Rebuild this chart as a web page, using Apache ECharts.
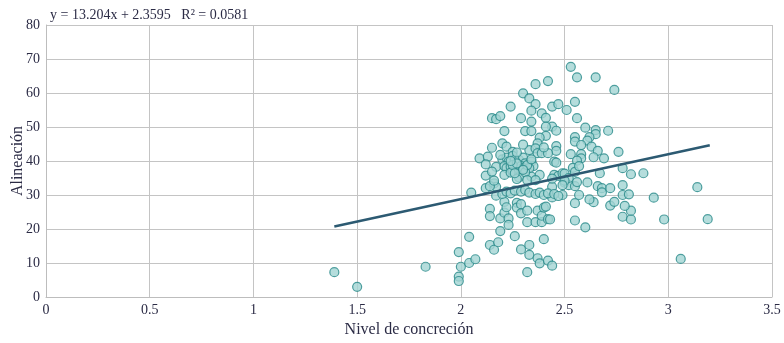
<!DOCTYPE html>
<html>
<head>
<meta charset="utf-8">
<script src="https://cdn.jsdelivr.net/npm/echarts@6/dist/echarts.min.js"></script>
<style>
  html, body { margin: 0; padding: 0; background: #fff; }
  #chart { width: 784px; height: 343px; }
</style>
</head>
<body>
<div id="chart"></div>
<script>
// Nivel de concreción (x) / Alineación (y)
const nivel = [
  1.39, 1.50, 1.83, 1.99, 2.00, 1.99, 1.99, 2.04, 2.07, 2.04,
  2.05, 2.14, 2.16, 2.14, 2.14, 2.18, 2.19, 2.19, 2.21, 2.23,
  2.23, 2.26, 2.29, 2.33, 2.33, 2.37, 2.38, 2.42, 2.44, 2.32,
  2.40, 2.21, 2.22, 2.27, 2.27, 2.29, 2.29, 2.32, 2.32, 2.36,
  2.37, 2.39, 2.39, 2.40, 2.42, 2.41, 2.43, 2.55, 2.60, 2.93,
  2.98, 3.06, 3.14, 3.19, 2.78, 2.82, 2.82, 2.79, 2.72, 2.74,
  2.64, 2.62, 2.55, 2.44, 2.49, 2.57, 2.78, 2.81, 2.44, 2.50,
  2.52, 2.55, 2.56, 2.61, 2.66, 2.68, 2.68, 2.72, 2.78, 2.67,
  2.82, 2.88, 2.78, 2.45, 2.47, 2.49, 2.50, 2.44, 2.52, 2.53,
  2.56, 2.65, 2.74, 2.44, 2.47, 2.55, 2.51, 2.56, 2.44, 2.46,
  2.60, 2.65, 2.65, 2.71, 2.55, 2.55, 2.62, 2.61, 2.58, 2.63,
  2.66, 2.46, 2.46, 2.76, 2.53, 2.58, 2.58, 2.64, 2.69, 2.56,
  2.45, 2.46, 2.54, 2.55, 2.57, 2.36, 2.42, 2.30, 2.33, 2.36,
  2.24, 2.34, 2.39, 2.41, 2.29, 2.34, 2.15, 2.17, 2.19, 2.21,
  2.31, 2.34, 2.41, 2.41, 2.38, 2.37, 2.20, 2.22, 2.25, 2.15,
  2.33, 2.36, 2.37, 2.39, 2.42, 2.09, 2.13, 2.20, 2.22, 2.23,
  2.25, 2.26, 2.28, 2.30, 2.31, 2.34, 2.35, 2.33, 2.17, 2.21,
  2.22, 2.24, 2.25, 2.29, 2.30, 2.28, 2.34, 2.38, 2.40, 2.12,
  2.15, 2.21, 2.24, 2.27, 2.31, 2.16, 2.17, 2.12, 2.14, 2.17,
  2.20, 2.22, 2.24, 2.26, 2.29, 2.31, 2.33, 2.36, 2.38, 2.40,
  2.42, 2.45, 2.47, 2.25, 2.27, 2.32, 2.30, 2.26, 2.32, 2.36,
  2.50, 2.49, 2.16, 2.19, 2.27, 2.30, 2.24, 2.34, 2.12
];
const alineacion = [
  7.3, 3.0, 8.9, 13.2, 8.9, 6.0, 4.7, 10.0, 11.1, 17.7,
  30.7, 15.3, 13.9, 25.9, 23.8, 16.1, 19.4, 23.1, 24.8, 23.1,
  21.2, 17.9, 14.0, 15.3, 12.4, 11.4, 9.9, 10.7, 9.2, 7.3,
  17.0, 28.0, 26.4, 27.7, 26.3, 27.3, 24.6, 25.4, 22.0, 22.0,
  25.4, 22.0, 23.9, 26.3, 22.9, 26.6, 22.8, 22.5, 20.5, 29.2,
  22.8, 11.2, 32.3, 22.9, 23.6, 22.8, 25.4, 26.8, 26.9, 28.0,
  27.9, 28.7, 27.6, 29.3, 30.0, 30.0, 30.0, 30.2, 32.4, 33.6,
  32.9, 32.6, 33.8, 33.7, 32.6, 32.0, 30.8, 32.0, 32.9, 36.4,
  36.1, 36.4, 37.9, 35.9, 35.6, 36.4, 36.3, 34.8, 35.0, 67.7,
  64.6, 64.6, 60.9, 56.0, 56.7, 57.4, 55.0, 52.6, 50.1, 48.9,
  49.8, 49.1, 47.9, 48.9, 47.0, 45.7, 47.0, 46.0, 44.7, 44.2,
  43.0, 44.4, 43.0, 42.7, 42.0, 42.0, 40.8, 41.1, 40.8, 40.1,
  39.8, 39.5, 38.0, 36.8, 38.5, 62.6, 63.5, 59.9, 58.4, 56.7,
  56.0, 54.8, 54.0, 52.7, 52.6, 51.6, 52.6, 52.3, 53.2, 48.8,
  48.8, 48.8, 50.1, 47.4, 46.9, 45.2, 45.2, 44.2, 42.7, 43.9,
  43.2, 43.7, 42.3, 42.3, 42.3, 40.8, 41.3, 40.5, 41.0, 39.8,
  41.5, 40.3, 40.3, 41.0, 39.3, 39.8, 38.5, 37.9, 38.3, 38.5,
  37.9, 38.3, 36.9, 38.5, 37.9, 35.2, 35.4, 35.9, 44.0, 35.7,
  36.9, 35.9, 36.6, 34.7, 36.7, 33.4, 32.4, 32.0, 32.6, 29.8,
  30.3, 31.0, 30.5, 31.3, 31.0, 31.5, 30.7, 30.3, 30.7, 30.0,
  30.5, 30.3, 29.7, 38.8, 39.3, 38.8, 37.4, 36.4, 34.4, 34.4,
  34.2, 32.9, 34.2, 41.8, 42.5, 44.8, 40.0, 40.5, 39.0
];
const puntos = nivel.map((x, i) => [x, alineacion[i]]);

// recta de regresión y = 13.204x + 2.3595
const pendiente = 13.204;
const intercepto = 2.3595;
const rangoRecta = [1.39, 3.2];
const recta = rangoRecta.map(x => [x, pendiente * x + intercepto]);

const fuente = 'Liberation Serif';
const colorTexto = '#2b2b45';

const chart = echarts.init(document.getElementById('chart'));
chart.setOption({
  animation: false,
  title: {
    text: 'y = 13.204x + 2.3595   R² = 0.0581',
    left: 45,
    top: 3,
    textStyle: { fontFamily: fuente, fontSize: 14, fontWeight: 'normal', color: colorTexto }
  },
  grid: { left: 46, right: 12, top: 25, bottom: 46, containLabel: false, outerBoundsMode: 'none' },
  xAxis: {
    type: 'value',
    min: 0,
    max: 3.5,
    interval: 0.5,
    name: 'Nivel de concreción',
    nameLocation: 'middle',
    nameGap: 25,
    nameMoveOverlap: false,
    nameTextStyle: { fontFamily: fuente, fontSize: 16, color: colorTexto },
    axisLine: { lineStyle: { color: '#bdbdbd', width: 1 } },
    axisTick: { show: false },
    axisLabel: { fontFamily: fuente, fontSize: 14, color: colorTexto, margin: 6 },
    splitLine: { show: true, lineStyle: { color: '#c4c4c4', width: 1 } }
  },
  yAxis: {
    type: 'value',
    min: 0,
    max: 80,
    interval: 10,
    name: 'Alineación',
    nameLocation: 'middle',
    nameGap: 20,
    nameMoveOverlap: false,
    nameTextStyle: { fontFamily: fuente, fontSize: 16, color: colorTexto },
    axisLine: { show: true, lineStyle: { color: '#bdbdbd', width: 1 } },
    axisTick: { show: false },
    axisLabel: { fontFamily: fuente, fontSize: 14, color: colorTexto, margin: 6 },
    splitLine: { show: true, lineStyle: { color: '#c4c4c4', width: 1 } }
  },
  series: [
    {
      type: 'scatter',
      data: puntos,
      symbolSize: 9,
      itemStyle: { color: '#a2d5d3', borderColor: '#28898a', borderWidth: 1.2 },
      z: 2
    },
    {
      type: 'line',
      data: recta,
      symbol: 'none',
      lineStyle: { color: '#2c5a72', width: 2.5 },
      z: 3
    }
  ]
});
</script>
</body>
</html>
